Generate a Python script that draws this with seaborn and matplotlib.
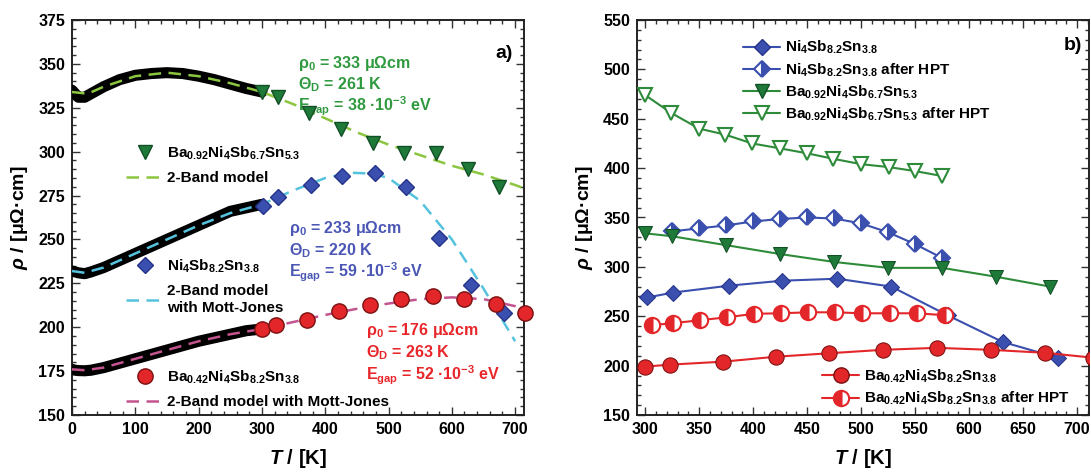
import numpy as np
import pandas as pd
import seaborn as sns
import matplotlib
matplotlib.use("Agg")
import matplotlib.pyplot as plt
from matplotlib.lines import Line2D
from matplotlib.ticker import MultipleLocator

# ---------------- data : panel a) ----------------
# low-temperature measured curves (dense data, drawn as thick black band)
T_low = [0, 5, 10, 20, 30, 50, 75, 100, 125, 150, 175, 200, 225, 250, 275, 300]
rho_BaSn53_low = [335, 333, 331, 331, 333, 337, 341, 343.5, 344.5, 345, 344.5, 343, 341, 338.5, 336, 334]
rho_Ni_low = [232, 231.5, 231, 230.5, 231.5, 234, 238, 242, 246, 250, 254, 258, 262, 266, 268, 270]
rho_Ba42_low = [176, 175.5, 175.3, 175.2, 175.5, 177, 179.5, 182, 184.5, 187, 189.5, 192, 194, 196, 198, 199]

# high-temperature measured points
T_BaSn53 = [300, 325, 375, 425, 475, 525, 575, 625, 675]
rho_BaSn53 = [334, 331, 322, 313, 305, 299, 299, 290, 280]
T_Ni = [302, 326, 378, 427, 478, 528, 580, 631, 682]
rho_Ni = [269, 274, 281, 286, 288, 280, 251, 224, 208]
T_Ba42 = [300, 323, 372, 421, 470, 520, 570, 620, 670, 715]
rho_Ba42 = [199, 201, 204, 209, 212.5, 216, 218, 216, 213, 208]

# 2-band model fits
T_fit_BaSn53 = [0, 25, 50, 100, 150, 200, 250, 300, 350, 400, 450, 500, 550, 600, 650, 700, 715]
rho_fit_BaSn53 = [334, 333, 337, 343, 345, 343, 339, 334, 327, 319, 311, 304, 298, 292, 287, 281, 279]
T_fit_Ni = [0, 20, 50, 100, 150, 200, 250, 300, 350, 400, 440, 475, 500, 550, 600, 650, 700]
rho_fit_Ni = [232, 231, 234, 242, 250, 258, 265, 270, 278, 285, 288, 287.5, 285, 272, 250, 222, 192]
T_fit_Ba42 = [0, 20, 50, 100, 150, 200, 250, 300, 350, 400, 450, 500, 550, 600, 650, 700, 715]
rho_fit_Ba42 = [176, 175.5, 177, 182, 187, 192, 196, 199, 203, 207, 210.5, 213.5, 216, 217, 216, 212, 210]

# ---------------- data : panel b) after HPT ----------------
T_Ni_HPT = [325, 350, 375, 400, 425, 450, 475, 500, 525, 550, 575]
rho_Ni_HPT = [336, 339, 342, 346, 348.5, 350, 349, 344, 335, 323, 309]
T_BaSn53_HPT = [300, 324, 350, 374, 399, 425, 450, 474, 500, 526, 550, 575]
rho_BaSn53_HPT = [474, 456, 440, 434, 425, 420, 415, 409.5, 404, 401, 397, 392]
T_Ba42_HPT = [306, 326, 351, 376, 401, 426, 451, 476, 501, 527, 552, 578]
rho_Ba42_HPT = [241, 243, 246, 249, 252.5, 253, 254, 254, 253, 253, 253, 251]

lab_Ni = r"Ni$_\mathrm{4}$Sb$_\mathrm{8.2}$Sn$_\mathrm{3.8}$"
lab_BaSn53 = r"Ba$_\mathrm{0.92}$Ni$_\mathrm{4}$Sb$_\mathrm{6.7}$Sn$_\mathrm{5.3}$"
lab_Ba42 = r"Ba$_\mathrm{0.42}$Ni$_\mathrm{4}$Sb$_\mathrm{8.2}$Sn$_\mathrm{3.8}$"

# ---------------- style ----------------
sns.set_style("ticks")
plt.rcParams["font.family"] = ["Liberation Sans", "DejaVu Sans"]
plt.rcParams["font.weight"] = "bold"
plt.rcParams["axes.labelcolor"] = "black"
plt.rcParams["text.color"] = "black"
plt.rcParams["mathtext.fontset"] = "custom"
plt.rcParams["mathtext.rm"] = "Liberation Sans:bold"
plt.rcParams["mathtext.it"] = "Liberation Sans:italic"
plt.rcParams["mathtext.bf"] = "Liberation Sans:bold"
plt.rcParams["mathtext.bfit"] = "Liberation Sans:bold:italic"

C_BLUE = "#3a4fae"
C_BLUE_E = "#25338a"
C_GREEN = "#1f7a3a"
C_GREEN_L = "#2e8b3a"
C_RED = "#e3262a"
C_RED_E = "#7a1010"
C_FIT_G = "#8cc540"
C_FIT_C = "#55c3dd"
C_FIT_M = "#c4548f"

fig = plt.figure(figsize=(10.91, 4.73), dpi=100)
axA = fig.add_axes([72 / 1091, 1 - 415 / 473, 452 / 1091, 395 / 473])
axB = fig.add_axes([637 / 1091, 1 - 415 / 473, 452 / 1091, 395 / 473])


def style_axes(ax, xmaj, xmin, ymaj, ymin):
    ax.xaxis.set_major_locator(MultipleLocator(xmaj))
    ax.xaxis.set_minor_locator(MultipleLocator(xmin))
    ax.yaxis.set_major_locator(MultipleLocator(ymaj))
    ax.yaxis.set_minor_locator(MultipleLocator(ymin))
    ax.tick_params(which="both", direction="in", top=True, right=True, width=1.0,
                   color="#333333", labelcolor="black")
    ax.tick_params(which="major", length=6, labelsize=11.5, pad=5)
    ax.tick_params(which="minor", length=3)
    for lbl in ax.get_xticklabels() + ax.get_yticklabels():
        lbl.set_fontweight("bold")
    for s in ax.spines.values():
        s.set_linewidth(1.4)
        s.set_color("#222222")


# ---------------- panel a) ----------------
for T, r in [(T_low, rho_BaSn53_low), (T_low, rho_Ni_low), (T_low, rho_Ba42_low)]:
    sns.lineplot(x=T, y=r, ax=axA, color="black", lw=8, sort=False, solid_capstyle="round", zorder=3)

sns.lineplot(x=T_fit_BaSn53, y=rho_fit_BaSn53, ax=axA, color=C_FIT_G, lw=1.8, dashes=(5, 3), sort=False, zorder=4)
sns.lineplot(x=T_fit_Ni, y=rho_fit_Ni, ax=axA, color=C_FIT_C, lw=1.8, dashes=(5, 3), sort=False, zorder=4)
sns.lineplot(x=T_fit_Ba42, y=rho_fit_Ba42, ax=axA, color=C_FIT_M, lw=1.8, dashes=(5, 3), sort=False, zorder=4)

axA.plot(T_BaSn53, rho_BaSn53, ls="none", marker="v", ms=10, mfc=C_GREEN, mec="#114f25", zorder=5, clip_on=False)
axA.plot(T_Ni, rho_Ni, ls="none", marker="D", ms=8, mfc=C_BLUE, mec=C_BLUE_E, zorder=5, clip_on=False)
axA.plot(T_Ba42, rho_Ba42, ls="none", marker="o", ms=11, mfc=C_RED, mec=C_RED_E, zorder=5, clip_on=False)

axA.set_xlim(0, 714)
axA.set_ylim(150, 375)
style_axes(axA, 100, 20, 25, 5)
axA.set_xlabel(r"$\mathbfit{T}$ / [K]", fontsize=14.5, fontweight="bold", labelpad=7)
axA.set_ylabel(r"$\rho$ / [μΩ·cm]", fontsize=14, fontweight="bold", labelpad=6)

leg_kw = dict(frameon=False, loc="upper left", borderpad=0, borderaxespad=0,
              handlelength=2.4, handletextpad=0.25, labelspacing=0.6, numpoints=1,
              prop={"weight": "bold", "size": 11})
h1 = [Line2D([], [], ls="none", marker="v", ms=10, mfc=C_GREEN, mec="#114f25"),
      Line2D([], [], color=C_FIT_G, lw=1.8, dashes=(5, 3))]
l1 = axA.legend(h1, [lab_BaSn53, "2-Band model"], bbox_to_anchor=(0.12, 0.685), **leg_kw)
axA.add_artist(l1)
h2 = [Line2D([], [], ls="none", marker="D", ms=8, mfc=C_BLUE, mec=C_BLUE_E),
      Line2D([], [], color=C_FIT_C, lw=1.8, dashes=(5, 3))]
l2 = axA.legend(h2, [lab_Ni, "2-Band model\nwith Mott-Jones"], bbox_to_anchor=(0.12, 0.398), **leg_kw)
axA.add_artist(l2)
h3 = [Line2D([], [], ls="none", marker="o", ms=11, mfc=C_RED, mec=C_RED_E),
      Line2D([], [], color=C_FIT_M, lw=1.8, dashes=(5, 3))]
axA.legend(h3, [lab_Ba42, "2-Band model with Mott-Jones"], bbox_to_anchor=(0.12, 0.118), **leg_kw)

txt_kw = dict(transform=axA.transAxes, fontsize=11.5, fontweight="bold", va="center", ha="left")
for i, s in enumerate([r"ρ$_\mathrm{0}$ = 333 μΩcm", r"Θ$_\mathrm{D}$ = 261 K",
                       r"E$_\mathrm{gap}$ = 38 ·10$^\mathrm{-3}$ eV"]):
    axA.text(0.50, 0.89 - i * 0.054, s, color="#2f9a3f", **txt_kw)
for i, s in enumerate([r"ρ$_\mathrm{0}$ = 233 μΩcm", r"Θ$_\mathrm{D}$ = 220 K",
                       r"E$_\mathrm{gap}$ = 59 ·10$^\mathrm{-3}$ eV"]):
    axA.text(0.48, 0.473 - i * 0.056, s, color="#4b57b5", **txt_kw)
for i, s in enumerate([r"ρ$_\mathrm{0}$ = 176 μΩcm", r"Θ$_\mathrm{D}$ = 263 K",
                       r"E$_\mathrm{gap}$ = 52 ·10$^\mathrm{-3}$ eV"]):
    axA.text(0.65, 0.213 - i * 0.056, s, color="#e8262a", **txt_kw)
axA.text(0.975, 0.915, "a)", transform=axA.transAxes, fontsize=14, fontweight="bold", ha="right", va="center")

# ---------------- panel b) ----------------
sns.lineplot(x=T_BaSn53_HPT, y=rho_BaSn53_HPT, ax=axB, color=C_GREEN_L, lw=1.5, sort=False,
             marker="v", ms=10, mfc="white", mec=C_GREEN_L, mew=1.5, zorder=4)
sns.lineplot(x=T_Ni_HPT, y=rho_Ni_HPT, ax=axB, color=C_BLUE, lw=1.5, sort=False,
             marker="D", ms=8, fillstyle="right", mfc=C_BLUE, mfcalt="white", mec=C_BLUE, mew=1.5, zorder=4)
sns.lineplot(x=T_BaSn53, y=rho_BaSn53, ax=axB, color=C_GREEN_L, lw=1.5, sort=False,
             marker="v", ms=10, mfc=C_GREEN, mec="#114f25", zorder=4)
sns.lineplot(x=T_Ni, y=rho_Ni, ax=axB, color=C_BLUE, lw=1.5, sort=False,
             marker="D", ms=8, mfc=C_BLUE, mec=C_BLUE_E, zorder=4)
sns.lineplot(x=T_Ba42_HPT, y=rho_Ba42_HPT, ax=axB, color=C_RED, lw=1.5, sort=False,
             marker="o", ms=11, fillstyle="left", mfc=C_RED, mfcalt="white", mec=C_RED, mew=1.5, zorder=4)
sns.lineplot(x=T_Ba42, y=rho_Ba42, ax=axB, color=C_RED, lw=1.5, sort=False,
             marker="o", ms=11, mfc=C_RED, mec=C_RED_E, zorder=5)

axB.set_xlim(292.5, 711)
axB.set_ylim(150, 550)
style_axes(axB, 50, 10, 50, 10)
axB.set_xlabel(r"$\mathbfit{T}$ / [K]", fontsize=14.5, fontweight="bold", labelpad=7)
axB.set_ylabel(r"$\rho$ / [μΩ·cm]", fontsize=14, fontweight="bold", labelpad=6)

leg_kw_b = dict(leg_kw)
leg_kw_b["labelspacing"] = 0.32
leg_kw_b["handletextpad"] = 0.35
hb = [Line2D([], [], color=C_BLUE, lw=1.5, marker="D", ms=8, mfc=C_BLUE, mec=C_BLUE_E),
      Line2D([], [], color=C_BLUE, lw=1.5, marker="D", ms=8, fillstyle="right", mfc=C_BLUE,
             mfcalt="white", mec=C_BLUE, mew=1.5),
      Line2D([], [], color=C_GREEN_L, lw=1.5, marker="v", ms=10, mfc=C_GREEN, mec="#114f25"),
      Line2D([], [], color=C_GREEN_L, lw=1.5, marker="v", ms=10, mfc="white", mec=C_GREEN_L, mew=1.5)]
lb = axB.legend(hb, [lab_Ni, lab_Ni + " after HPT", lab_BaSn53, lab_BaSn53 + " after HPT"],
                bbox_to_anchor=(0.235, 0.952), **leg_kw_b)
axB.add_artist(lb)
hr = [Line2D([], [], color=C_RED, lw=1.5, marker="o", ms=11, mfc=C_RED, mec=C_RED_E),
      Line2D([], [], color=C_RED, lw=1.5, marker="o", ms=11, fillstyle="left", mfc=C_RED,
             mfcalt="white", mec=C_RED, mew=1.5)]
axB.legend(hr, [lab_Ba42, lab_Ba42 + " after HPT"], bbox_to_anchor=(0.41, 0.12), **leg_kw_b)
axB.text(0.985, 0.935, "b)", transform=axB.transAxes, fontsize=14, fontweight="bold", ha="right", va="center")

fig.savefig("out.png", dpi=100)
